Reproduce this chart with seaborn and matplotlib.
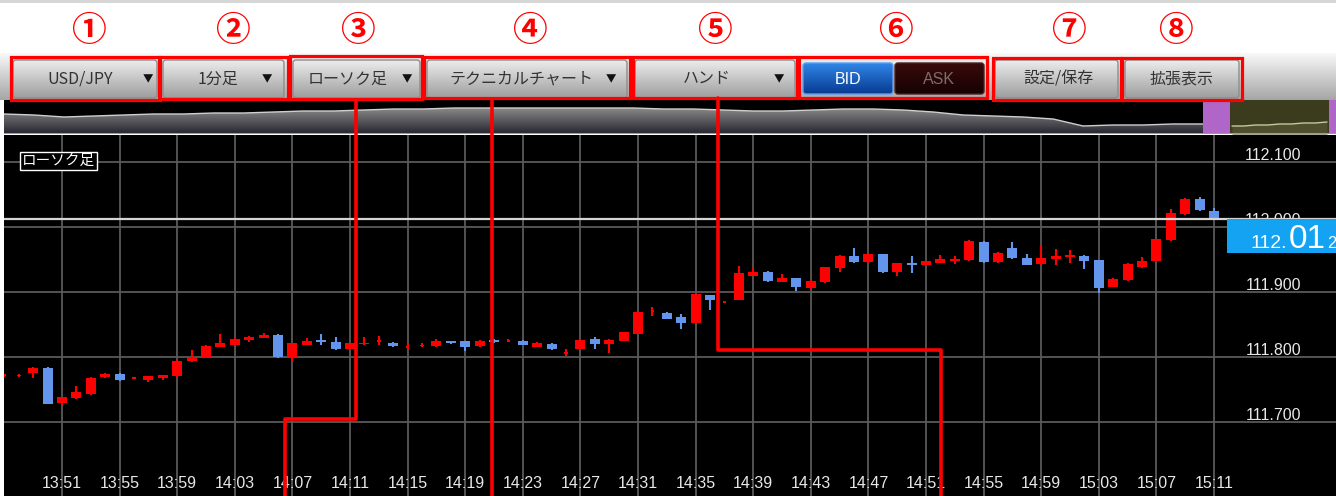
import matplotlib
matplotlib.use("Agg")
import matplotlib.colors as mcolors
import matplotlib.patches as mpatches
import matplotlib.pyplot as plt
import numpy as np
import pandas as pd
import seaborn as sns

# ---- values ----
# one-minute candles, minute offsets relative to 13:51
minutes = list(range(-4, 81))
opens = [111.771, 111.771, 111.775, 111.783, 111.729, 111.737, 111.743, 111.769, 111.774, 111.767,
         111.764, 111.768, 111.771, 111.794, 111.800, 111.816, 111.819, 111.826, 111.830, 111.834,
         111.800, 111.819, 111.826, 111.823, 111.812, 111.820, 111.824, 111.822, 111.815, 111.817,
         111.817, 111.824, 111.824, 111.817, 111.826, 111.824, 111.825, 111.816, 111.820, 111.806,
         111.812, 111.828, 111.820, 111.825, 111.836, 111.870, 111.868, 111.862, 111.853, 111.895,
         111.884, 111.888, 111.925, 111.931, 111.916, 111.921, 111.906, 111.915, 111.937, 111.956,
         111.946, 111.958, 111.931, 111.945, 111.941, 111.945, 111.948, 111.949, 111.977, 111.946,
         111.967, 111.953, 111.943, 111.951, 111.954, 111.956, 111.949, 111.908, 111.918, 111.938,
         111.947, 111.980, 112.020, 112.043, 112.024]
highs = [111.774, 111.774, 111.784, 111.784, 111.739, 111.755, 111.769, 111.775, 111.775, 111.769,
         111.771, 111.773, 111.795, 111.811, 111.818, 111.836, 111.829, 111.832, 111.837, 111.835,
         111.822, 111.830, 111.835, 111.831, 111.822, 111.831, 111.833, 111.823, 111.821, 111.821,
         111.827, 111.825, 111.825, 111.826, 111.827, 111.827, 111.826, 111.823, 111.821, 111.813,
         111.827, 111.831, 111.827, 111.839, 111.870, 111.877, 111.869, 111.866, 111.898, 111.896,
         111.886, 111.940, 111.937, 111.932, 111.928, 111.922, 111.918, 111.939, 111.957, 111.967,
         111.959, 111.959, 111.945, 111.955, 111.948, 111.957, 111.955, 111.980, 111.978, 111.961,
         111.977, 111.958, 111.971, 111.966, 111.965, 111.957, 111.950, 111.922, 111.944, 111.954,
         111.982, 112.028, 112.044, 112.046, 112.029]
lows = [111.770, 111.770, 111.768, 111.727, 111.725, 111.736, 111.742, 111.768, 111.763, 111.766,
        111.762, 111.765, 111.770, 111.793, 111.799, 111.815, 111.818, 111.823, 111.829, 111.799,
        111.794, 111.818, 111.818, 111.811, 111.811, 111.818, 111.819, 111.816, 111.811, 111.815,
        111.816, 111.820, 111.810, 111.816, 111.822, 111.823, 111.818, 111.815, 111.811, 111.801,
        111.811, 111.813, 111.806, 111.824, 111.835, 111.863, 111.858, 111.843, 111.852, 111.872,
        111.883, 111.887, 111.924, 111.916, 111.915, 111.902, 111.905, 111.914, 111.931, 111.945,
        111.945, 111.929, 111.924, 111.929, 111.940, 111.944, 111.943, 111.948, 111.945, 111.945,
        111.951, 111.941, 111.942, 111.942, 111.945, 111.935, 111.898, 111.907, 111.917, 111.937,
        111.946, 111.979, 112.019, 112.025, 112.011]
closes = [111.773, 111.772, 111.783, 111.728, 111.738, 111.746, 111.768, 111.774, 111.764, 111.768,
          111.770, 111.772, 111.794, 111.800, 111.817, 111.821, 111.828, 111.831, 111.834, 111.800,
          111.821, 111.825, 111.823, 111.812, 111.821, 111.822, 111.826, 111.817, 111.816, 111.818,
          111.824, 111.821, 111.816, 111.825, 111.823, 111.825, 111.819, 111.821, 111.812, 111.807,
          111.826, 111.820, 111.826, 111.838, 111.869, 111.871, 111.859, 111.853, 111.897, 111.888,
          111.885, 111.929, 111.931, 111.917, 111.921, 111.907, 111.917, 111.938, 111.956, 111.946,
          111.958, 111.930, 111.944, 111.942, 111.947, 111.951, 111.950, 111.979, 111.946, 111.960,
          111.952, 111.942, 111.952, 111.956, 111.956, 111.948, 111.906, 111.920, 111.943, 111.947,
          111.981, 112.021, 112.043, 112.026, 112.012]

tick_minutes = list(range(0, 81, 4))
tick_labels = ["13:51", "13:55", "13:59", "14:03", "14:07", "14:11", "14:15", "14:19", "14:23",
               "14:27", "14:31", "14:35", "14:39", "14:43", "14:47", "14:51", "14:55", "14:59",
               "15:03", "15:07", "15:11"]
price_ticks = [111.7, 111.8, 111.9, 112.0, 112.1]
price_labels = ["111.700", "111.800", "111.900", "112.000", "112.100"]
last_price = 112.012
last_parts = ["112.", "01", "2"]
chart_type_label = "ローソク足"

toolbar_labels = ["USD/JPY", "1分足", "ローソク足", "テクニカルチャート", "ハンド", "設定/保存", "拡張表示"]
toggle_labels = ["BID", "ASK"]
marker_labels = ["①", "②", "③", "④", "⑤", "⑥", "⑦", "⑧"]

# overview strip (height of the history line inside the strip)
overview_level = [20, 19, 17, 18, 19, 20, 20, 21, 21, 22, 23, 23, 24, 25, 25, 26, 26, 26, 26, 26, 26,
                  26, 25, 25, 24, 23, 23, 24, 25, 25, 24, 22, 19, 18, 17, 15, 8, 9, 9, 10, 10]
overview_zoom_level = [8, 8, 9, 9, 10, 10, 11, 11, 12]

UP = "#ff0000"
DOWN = "#6495ed"
GRID = "#595959"
RED = "#ff0000"
W, H = 1336, 496

sns.set_theme(style="dark")
plt.rcParams["font.family"] = ["Noto Sans CJK JP", "DejaVu Sans"]
NUM_FONT = ["Liberation Sans", "DejaVu Sans"]


def px_rect(x0, y0, x1, y1):
    return [x0 / W, 1 - y1 / H, (x1 - x0) / W, (y1 - y0) / H]


def vgrad(top, bottom, n=64):
    c0 = np.array(mcolors.to_rgb(top))
    c1 = np.array(mcolors.to_rgb(bottom))
    t = np.linspace(0, 1, n)[:, None]
    return (c0 * (1 - t) + c1 * t)[:, None, :]


fig = plt.figure(figsize=(W / 100, H / 100), dpi=100, facecolor="white")
ax = fig.add_axes(px_rect(4, 135, 1336, 496), zorder=1)
ov = fig.add_axes(px_rect(4, 100, 1336, 134), zorder=1)
ui = fig.add_axes([0, 0, 1, 1], zorder=5)

# ---- candle chart ----
df = pd.DataFrame({"minute": minutes, "open": opens, "high": highs, "low": lows, "close": closes})
df["color"] = np.where(df["close"] >= df["open"], UP, DOWN)
df["body"] = (df["close"] - df["open"]).abs().clip(lower=0.0025)
df["bottom"] = (df["open"] + df["close"]) / 2 - df["body"] / 2
# near-doji candles are drawn as a short stub, not a full-width bar
df["width"] = np.where((df["close"] - df["open"]).abs() < 0.002, 0.25, 0.7)

ax.set_facecolor("black")
for m in tick_minutes:
    ax.axvline(m, color=GRID, lw=1.3, zorder=1)
for p in price_ticks:
    ax.axhline(p, color=GRID, lw=1.3, zorder=1)

ax.vlines(df["minute"], df["low"], df["high"], colors=df["color"], lw=1.5, zorder=3)
ax.bar(df["minute"], df["body"], bottom=df["bottom"], width=df["width"], color=df["color"], lw=0, zorder=4)

for m, lab in zip(tick_minutes, tick_labels):
    ax.text(m, 0.036, lab, transform=ax.get_xaxis_transform(), ha="center", va="center",
            color="#e8e8e8", fontsize=11.5, family=NUM_FONT, zorder=6)
for p, lab in zip(price_ticks, price_labels):
    ax.text(0.9737, p + 0.0028, lab, transform=ax.get_yaxis_transform(), ha="right", va="baseline",
            color="#e8e8e8", fontsize=11.5, family=NUM_FONT, zorder=2)

ax.axhline(last_price, color="#d4d4d4", lw=1.6, zorder=5)
ax.add_patch(mpatches.Rectangle((0.918, last_price - 0.052), 0.082, 0.052,
                                transform=ax.get_yaxis_transform(), color="#14a2f2", lw=0, zorder=6))
base = last_price - 0.0443
ax.text(0.9632, base, last_parts[0], transform=ax.get_yaxis_transform(), ha="right", va="baseline",
        color="white", fontsize=14, family=NUM_FONT, zorder=7)
ax.text(0.9647, base, last_parts[1], transform=ax.get_yaxis_transform(), ha="left", va="baseline",
        color="white", fontsize=24, family=NUM_FONT, zorder=7)
ax.text(0.9932, base, last_parts[2], transform=ax.get_yaxis_transform(), ha="left", va="baseline",
        color="white", fontsize=12, family=NUM_FONT, zorder=7)

ax.text(0.0135, 0.928, chart_type_label, transform=ax.transAxes, ha="left", va="center",
        color="white", fontsize=10.5, zorder=7,
        bbox=dict(boxstyle="square,pad=0.15", fc="black", ec="white", lw=1))

ax.set_xlim((4 - 62) / 14.4, (1336 - 62) / 14.4)
ax.set_ylim(112.0 - (496 - 227) / 650, 112.0 + (227 - 135) / 650)
ax.set_xticks([])
ax.set_yticks([])
for s in ax.spines.values():
    s.set_visible(False)

# ---- overview strip ----
ov.set_facecolor("black")
ov_x = np.linspace(0, 1199, len(overview_level))
fill = ov.fill_between(ov_x, 0, overview_level, color="none", lw=0)
im = ov.imshow(vgrad("#8c8c8c", "#25252f"), extent=(0, 1199, 0, 27), aspect="auto", zorder=1,
               interpolation="bilinear")
im.set_clip_path(fill.get_paths()[0], ov.transData)
sns.lineplot(x=ov_x, y=overview_level, ax=ov, color="#cfcfcf", lw=1.0, zorder=2)
ov.axvspan(1199, 1226, color="#b066c8", lw=0, zorder=3)
ov.axvspan(1226, 1325, color="#3b3b1e", lw=0, zorder=1)
oz_x = np.linspace(1228, 1323, len(overview_zoom_level))
ov.fill_between(oz_x, 0, overview_zoom_level, color="#4f4f2e", lw=0, zorder=2)
sns.lineplot(x=oz_x, y=overview_zoom_level, ax=ov, color="#c8c8a0", lw=1.0, zorder=3)
ov.axvspan(1325, 1332, color="#b066c8", lw=0, zorder=3)
ov.axhline(0.5, color="#9a9a9a", lw=1.5, zorder=4)
ov.set_xlim(0, 1332)
ov.set_ylim(0, 34)
ov.set_xticks([])
ov.set_yticks([])
for s in ov.spines.values():
    s.set_visible(False)

# ---- toolbar and annotations (pixel space) ----
ui.set_facecolor("none")
ui.axis("off")
ui.add_patch(mpatches.Rectangle((0, 0), W, 3, color="#d6d6d6", lw=0))
ui.imshow(vgrad("#f8f8f8", "#a6a6a6"), extent=(0, W, 100, 53), aspect="auto", zorder=1,
          interpolation="bilinear")


def gradient_box(x0, y0, x1, y1, top, bottom, edge, z=2):
    box = mpatches.FancyBboxPatch((x0, y0), x1 - x0, y1 - y0, boxstyle="round,pad=0,rounding_size=3",
                                  fc="none", ec=edge, lw=1, zorder=z + 0.1)
    ui.add_patch(box)
    img = ui.imshow(vgrad(top, bottom), extent=(x0, x1, y1, y0), aspect="auto", zorder=z,
                    interpolation="bilinear")
    img.set_clip_path(box)


# (left, right, label centre, arrow x) per button
button_layout = [(13, 157, 80, 148), (163, 284, 218, 267), (293, 420, 348, 407),
                 (427, 627, 521, 611), (635, 795, 707, 779), (995, 1118, 1058, None),
                 (1125, 1239, 1182, None)]
for (x0, x1, cx, arrow), lab in zip(button_layout, toolbar_labels):
    gradient_box(x0, 60, x1, 98, "#ececec", "#9e9e9e", "#8c8c8c")
    ui.text(cx, 79, lab, ha="center", va="center", fontsize=11.5, color="#333333", zorder=3)
    if arrow is not None:
        ui.text(arrow, 79, "▼", ha="center", va="center", fontsize=7.5, color="#111111", zorder=3)

gradient_box(803, 63, 893, 94, "#2f86e8", "#083a90", "#5c9cf0")
gradient_box(895, 63, 984, 94, "#3a0a0a", "#160202", "#4a2020")
ui.text(848, 79, toggle_labels[0], ha="center", va="center", fontsize=11.5, color="white",
        family=NUM_FONT, zorder=3)
ui.text(939, 79, toggle_labels[1], ha="center", va="center", fontsize=11.5, color="#7c6c6c",
        family=NUM_FONT, zorder=3)

red_boxes = [(11, 57, 160, 100), (159, 57, 288, 99), (290, 56, 422, 99), (424, 57, 630, 98),
             (633, 57, 797, 98), (799, 57, 987, 98), (993, 58, 1121, 100), (1122, 58, 1242, 100)]
marker_x = [88, 232, 357, 529, 714, 895, 1068, 1175]
for (x0, y0, x1, y1), mx, lab in zip(red_boxes, marker_x, marker_labels):
    ui.add_patch(mpatches.Rectangle((x0, y0), x1 - x0, y1 - y0, fill=False, ec=RED, lw=2.3, zorder=4))
    ui.text(mx, 31, lab, ha="center", va="center", fontsize=25, fontweight="bold", color=RED, zorder=4)

ui.plot([356, 356, 285, 285], [100, 419, 419, 496], color=RED, lw=2.6, zorder=4)
ui.plot([492, 492], [100, 496], color=RED, lw=2.6, zorder=4)
ui.plot([718, 718, 941, 941], [98, 350, 350, 496], color=RED, lw=2.6, zorder=4)

ui.set_xlim(0, W)
ui.set_ylim(H, 0)

fig.savefig("out.png", dpi=100, facecolor="white")
